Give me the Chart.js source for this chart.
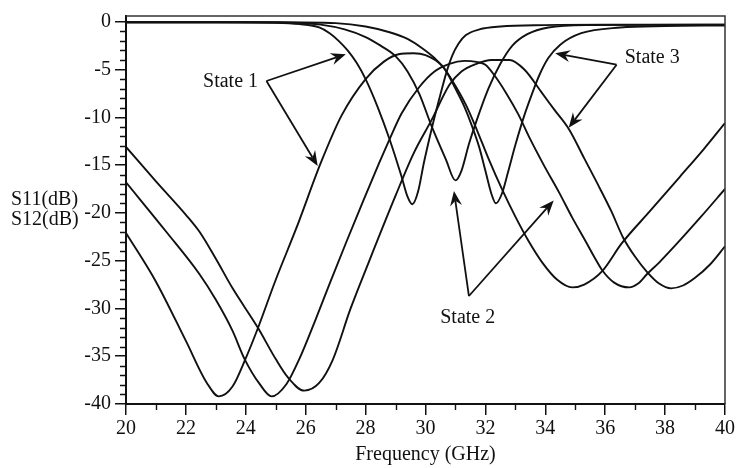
<!DOCTYPE html>
<html>
<head>
<meta charset="utf-8">
<script src="https://cdn.jsdelivr.net/npm/chart.js@4.4.0/dist/chart.umd.min.js"></script>
<style>
  html, body { margin: 0; padding: 0; background: #fff; }
  #wrap { width: 737px; height: 468px; }
</style>
</head>
<body>
<div id="wrap"><canvas id="c" width="737" height="468"></canvas></div>
<script>
// Axis tick values
const xTicks = [20, 22, 24, 26, 28, 30, 32, 34, 36, 38, 40];
const yTicks = [0, -5, -10, -15, -20, -25, -30, -35, -40];

// Transmission, state 1
const t1Freq = [20, 21, 22, 22.7, 23.1, 23.55, 24, 24.4, 25, 25.7, 26.5, 27.2, 28, 28.6, 29.1, 29.6, 30, 30.55, 30.9, 31.35, 31.7, 32.1, 32.55, 33, 33.45, 33.9, 34.4, 34.9, 35.3, 35.9, 36.55, 37.5, 38.5, 39.3, 40];
const t1Db   = [-22.1, -27.2, -33.4, -37.8, -39.2, -38.2, -35.2, -32.1, -27.0, -21.5, -14.8, -9.8, -6.0, -4.2, -3.4, -3.3, -3.5, -4.6, -6.2, -8.7, -11.2, -14.3, -17.5, -20.4, -23.0, -25.2, -27.0, -27.8, -27.5, -26.1, -23.2, -19.8, -16.2, -13.3, -10.6];

// Transmission, state 2
const t2Freq = [20, 21.35, 22.45, 23.0, 23.55, 23.96, 24.46, 24.86, 25.36, 25.8, 26.3, 26.8, 27.35, 27.9, 28.45, 28.8, 29.2, 29.8, 30.3, 30.8, 31.3, 31.7, 32.0, 32.3, 32.7, 33.1, 33.45, 33.95, 34.45, 34.9, 35.35, 35.65, 35.9, 36.3, 36.8, 37.1, 37.4, 37.8, 38.4, 39.2, 40];
const t2Db   = [-16.8, -22.0, -26.4, -29.1, -32.3, -35.3, -37.9, -39.2, -37.9, -35.2, -31.4, -27.4, -23.1, -18.9, -14.8, -12.3, -9.6, -6.8, -5.2, -4.4, -4.1, -4.2, -4.5, -5.6, -7.5, -9.7, -12.0, -15.0, -17.8, -20.5, -23.0, -24.7, -26.0, -27.3, -27.8, -27.4, -26.4, -25.2, -23.2, -20.4, -17.5];

// Transmission, state 3
const t3Freq = [20, 21, 22.0, 22.46, 23.0, 23.56, 24.4, 25.0, 25.4, 25.95, 26.45, 26.9, 27.5, 28.1, 29.0, 29.6, 30.2, 30.8, 31.2, 31.7, 32.2, 32.8, 33.3, 33.9, 34.3, 34.8, 35.3, 35.8, 36.2, 36.6, 37.0, 37.4, 37.8, 38.2, 38.6, 39.0, 39.5, 40];
const t3Db   = [-13.1, -16.7, -20.2, -22.0, -24.8, -27.9, -32.0, -35.3, -37.2, -38.6, -37.8, -35.4, -30.0, -25.2, -18.2, -13.8, -10.3, -6.6, -5.2, -4.4, -4.0, -4.0, -5.0, -7.5, -9.2, -11.3, -14.3, -17.3, -19.8, -22.6, -24.6, -26.2, -27.4, -27.9, -27.6, -26.8, -25.4, -23.5];

// Reflection, state 1
const r1Freq = [20, 23, 25, 25.8, 26.45, 26.8, 27.1, 27.4, 27.7, 28.0, 28.4, 28.8, 29.2, 29.4, 29.56, 29.75, 29.95, 30.23, 30.5, 30.7, 30.9, 31.1, 31.35, 31.8, 32.5, 34, 36, 40];
const r1Db   = [-0.05, -0.05, -0.1, -0.25, -0.6, -1.2, -2.0, -3.0, -4.3, -6.0, -8.9, -12.3, -16.2, -18.3, -19.1, -17.8, -14.7, -10.9, -7.6, -5.3, -3.5, -2.3, -1.4, -0.8, -0.5, -0.35, -0.3, -0.3];

// Reflection, state 2
const r2Freq = [20, 24, 25.5, 26.5, 27.3, 28.0, 28.5, 29.0, 29.4, 29.8, 30.2, 30.68, 31.0, 31.2, 31.45, 31.7, 32.1, 32.5, 32.9, 33.4, 34.1, 35.5, 40];
const r2Db   = [-0.05, -0.05, -0.1, -0.3, -0.8, -1.6, -2.5, -3.6, -5.2, -7.6, -10.9, -14.4, -16.6, -15.6, -12.8, -10.4, -7.0, -4.4, -2.5, -1.3, -0.6, -0.35, -0.3];

// Reflection, state 3
const r3Freq = [20, 25, 27.0, 28.0, 28.8, 29.4, 29.9, 30.3, 30.65, 31.0, 31.3, 31.55, 31.8, 32.0, 32.2, 32.35, 32.55, 32.75, 33.0, 33.3, 33.55, 33.8, 34.1, 34.5, 35.2, 36.5, 38, 40];
const r3Db   = [-0.05, -0.05, -0.15, -0.5, -1.1, -1.8, -2.8, -3.8, -5.0, -7.0, -8.9, -10.9, -13.2, -15.6, -18.0, -19.0, -18.0, -15.8, -12.9, -9.8, -7.6, -5.6, -3.8, -2.4, -1.2, -0.6, -0.45, -0.4];

// Callouts: label text, label centre, arrow start and two arrow tips (GHz, dB)
const calloutText  = ['State 1', 'State 2', 'State 3'];
const calloutLabel = [[23.49, -6.3], [31.41, -31.0], [37.57, -3.8]];
const calloutStart = [[24.69, -6.2], [31.45, -28.7], [36.38, -4.5]];
const calloutTipA  = [[27.34, -3.4], [30.95, -17.7], [34.33, -3.3]];
const calloutTipB  = [[26.40, -15.1], [34.28, -18.7], [34.78, -11.1]];

const FONT = { family: '"Liberation Serif", "Times New Roman", serif', size: 20 };
const INK = '#111';

function pairs(xs, ys) { return xs.map((x, i) => ({ x: x, y: ys[i] })); }

const curves = [
  pairs(t1Freq, t1Db), pairs(t2Freq, t2Db), pairs(t3Freq, t3Db),
  pairs(r1Freq, r1Db), pairs(r2Freq, r2Db), pairs(r3Freq, r3Db)
];

// Minor ticks, plot frame and the two-line y title
const axisDecor = {
  id: 'axisDecor',
  afterDraw(chart) {
    const { ctx, chartArea: a, scales: { x, y } } = chart;
    ctx.save();
    ctx.strokeStyle = INK;
    ctx.lineWidth = 1.4;
    ctx.beginPath();
    for (let v = 21; v < 40; v += 2) {
      const px = Math.round(x.getPixelForValue(v)) + 0.5;
      ctx.moveTo(px, a.bottom); ctx.lineTo(px, a.bottom + 6);
    }
    for (let v = -39; v < 0; v++) {
      if (v % 5 === 0) continue;
      const py = Math.round(y.getPixelForValue(v)) + 0.5;
      ctx.moveTo(a.left, py); ctx.lineTo(a.left - 6, py);
    }
    ctx.stroke();
    ctx.lineWidth = 1.5;
    ctx.strokeStyle = '#333';
    ctx.beginPath();
    ctx.moveTo(a.left, a.top); ctx.lineTo(a.right, a.top); ctx.lineTo(a.right, a.bottom);
    ctx.stroke();
    ctx.fillStyle = INK;
    ctx.font = FONT.size + 'px ' + FONT.family;
    ctx.textAlign = 'left';
    ctx.textBaseline = 'middle';
    const mid = (a.top + a.bottom) / 2;
    ctx.fillText('S11(dB)', 11, mid - 10);
    ctx.fillText('S12(dB)', 11, mid + 10);
    ctx.restore();
  }
};

function arrowTo(ctx, x0, y0, x1, y1) {
  const ang = Math.atan2(y1 - y0, x1 - x0);
  const len = 15, half = 6, notch = 10;
  const bx = x1 - Math.cos(ang) * notch, by = y1 - Math.sin(ang) * notch;
  ctx.beginPath();
  ctx.moveTo(x0, y0); ctx.lineTo(bx, by);
  ctx.stroke();
  const cx = x1 - Math.cos(ang) * len, cy = y1 - Math.sin(ang) * len;
  const nx = -Math.sin(ang) * half, ny = Math.cos(ang) * half;
  ctx.beginPath();
  ctx.moveTo(x1, y1);
  ctx.lineTo(cx + nx, cy + ny);
  ctx.lineTo(bx, by);
  ctx.lineTo(cx - nx, cy - ny);
  ctx.closePath();
  ctx.fill();
}

const callouts = {
  id: 'callouts',
  afterDatasetsDraw(chart) {
    const { ctx, scales: { x, y } } = chart;
    const P = (p) => [x.getPixelForValue(p[0]), y.getPixelForValue(p[1])];
    ctx.save();
    ctx.strokeStyle = INK;
    ctx.fillStyle = INK;
    ctx.lineWidth = 1.8;
    ctx.font = FONT.size + 'px ' + FONT.family;
    ctx.textAlign = 'center';
    ctx.textBaseline = 'middle';
    calloutText.forEach((t, i) => {
      const [lx, ly] = P(calloutLabel[i]);
      ctx.fillText(t, lx, ly);
      const [sx, sy] = P(calloutStart[i]);
      const [ax, ay] = P(calloutTipA[i]);
      const [bx, by] = P(calloutTipB[i]);
      arrowTo(ctx, sx, sy, ax, ay);
      arrowTo(ctx, sx, sy, bx, by);
    });
    ctx.restore();
  }
};

new Chart(document.getElementById('c'), {
  type: 'scatter',
  data: {
    datasets: curves.map(d => ({
      data: d,
      showLine: true,
      borderColor: INK,
      borderWidth: 1.9,
      pointRadius: 0,
      cubicInterpolationMode: 'monotone',
      fill: false
    }))
  },
  options: {
    responsive: false,
    animation: false,
    devicePixelRatio: 1,
    layout: { padding: { left: 0, right: 10, top: 12, bottom: 0 } },
    plugins: { legend: { display: false }, tooltip: { enabled: false } },
    scales: {
      x: {
        type: 'linear', min: 20, max: 40,
        afterBuildTicks: s => { s.ticks = xTicks.map(v => ({ value: v })); },
        afterFit: s => { s.height = 64; },
        ticks: { font: FONT, color: INK, padding: 2, maxRotation: 0, autoSkip: false, callback: v => String(v) },
        grid: { drawOnChartArea: false, drawTicks: true, tickLength: 11, color: INK, lineWidth: 1.5 },
        border: { display: true, color: INK, width: 2 },
        title: { display: true, text: 'Frequency (GHz)', font: FONT, color: INK, padding: { top: 0, bottom: 1 } }
      },
      y: {
        type: 'linear', min: -40, max: 0.6,
        afterBuildTicks: s => { s.ticks = yTicks.map(v => ({ value: v })); },
        afterFit: s => { s.width = 126; },
        ticks: { font: FONT, color: INK, padding: 4, autoSkip: false, callback: v => String(v) },
        grid: { drawOnChartArea: false, drawTicks: true, tickLength: 11, color: INK, lineWidth: 1.5 },
        border: { display: true, color: INK, width: 2 }
      }
    }
  },
  plugins: [axisDecor, callouts]
});
</script>
</body>
</html>
